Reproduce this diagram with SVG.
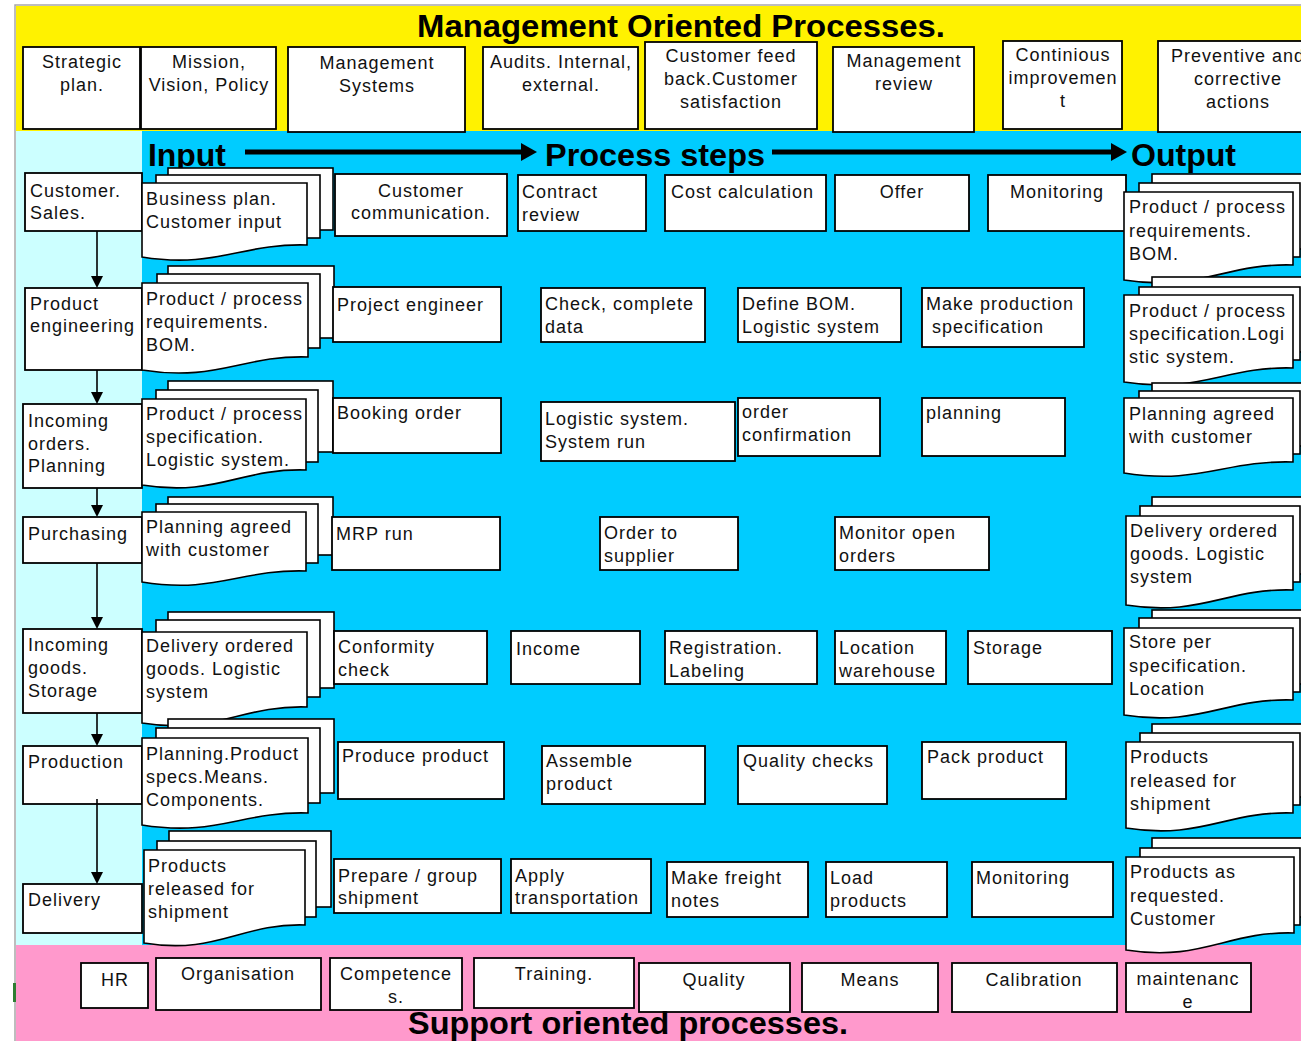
<svg xmlns="http://www.w3.org/2000/svg" width="1301" height="1041" viewBox="0 0 1301 1041">
<style>
.t{font-family:"Liberation Sans",Arial,sans-serif;font-size:18px;letter-spacing:1px;fill:#111}
.c{text-anchor:middle}
.h{font-family:"Liberation Sans",Arial,sans-serif;font-weight:bold;font-size:32px;fill:#000}
.b{fill:#fff;stroke:#000;stroke-width:1.8}
.d{fill:#fff;stroke:#000;stroke-width:1.6}
.cn{stroke:#000;stroke-width:1.6;fill:none}
</style>
<defs>
<marker id="ah" markerWidth="10" markerHeight="12" refX="5" refY="12" orient="auto-start-reverse" markerUnits="userSpaceOnUse" viewBox="0 0 10 12">
</marker>
</defs>
<!-- backgrounds -->
<rect x="0" y="0" width="1301" height="1041" fill="#fff"/>
<rect x="16" y="6" width="1285" height="125" fill="#FFF200"/>
<rect x="16" y="131" width="126" height="814" fill="#CCFFFF"/>
<rect x="142" y="131" width="1159" height="814" fill="#00CCFF"/>
<rect x="16" y="945" width="1285" height="96" fill="#FF99CC"/>
<path d="M15,1041 V5 H1301" fill="none" stroke="#a8a8a8" stroke-width="1.5"/>
<rect x="13" y="983" width="3" height="19" fill="#2e7d32"/>

<!-- management band -->
<text class="h" x="417" y="37" textLength="528" lengthAdjust="spacingAndGlyphs">Management Oriented Processes.</text>
<g id="m-strategic"><rect class="b" x="23" y="47" width="117" height="82"/><text class="t c" x="82" y="68">Strategic<tspan x="82" dy="23">plan.</tspan></text></g>
<g id="m-mission"><rect class="b" x="141" y="47" width="135" height="82"/><text class="t c" x="209" y="68">Mission,<tspan x="209" dy="23">Vision, Policy</tspan></text></g>
<g id="m-mgmtsys"><rect class="b" x="288" y="47" width="177" height="85"/><text class="t c" x="377" y="69">Management<tspan x="377" dy="23">Systems</tspan></text></g>
<g id="m-audits"><rect class="b" x="483" y="47" width="155" height="82"/><text class="t c" x="561" y="68">Audits. Internal,<tspan x="561" dy="23">external.</tspan></text></g>
<g id="m-feedback"><rect class="b" x="645" y="42" width="172" height="87"/><text class="t c" x="731" y="62">Customer feed<tspan x="731" dy="23">back.Customer</tspan><tspan x="731" dy="23">satisfaction</tspan></text></g>
<g id="m-review"><rect class="b" x="833" y="47" width="141" height="85"/><text class="t c" x="904" y="67">Management<tspan x="904" dy="23">review</tspan></text></g>
<g id="m-improve"><rect class="b" x="1003" y="41" width="119" height="88"/><text class="t c" x="1063" y="61">Continious<tspan x="1063" dy="23">improvemen</tspan><tspan x="1063" dy="23">t</tspan></text></g>
<g id="m-preventive"><rect class="b" x="1158" y="41" width="160" height="91"/><text class="t c" x="1238" y="62">Preventive and<tspan x="1238" dy="23">corrective</tspan><tspan x="1238" dy="23">actions</tspan></text></g>

<!-- header -->
<text class="h" x="148" y="166" textLength="78" lengthAdjust="spacingAndGlyphs">Input</text>
<text class="h" x="545" y="166" textLength="220" lengthAdjust="spacingAndGlyphs">Process steps</text>
<text class="h" x="1131" y="166" textLength="105" lengthAdjust="spacingAndGlyphs">Output</text>
<g id="header-arrows">
<line x1="245" y1="152" x2="524" y2="152" stroke="#000" stroke-width="5"/>
<polygon points="537,152 521,143 521,161" fill="#000"/>
<line x1="772" y1="152" x2="1114" y2="152" stroke="#000" stroke-width="5"/>
<polygon points="1127,152 1111,143 1111,161" fill="#000"/>
</g>

<!-- left column -->
<g id="l-sales"><rect class="b" x="25" y="173" width="117" height="58"/><text class="t" x="30" y="197">Customer.<tspan x="30" dy="22">Sales.</tspan></text></g>
<g id="l-eng"><rect class="b" x="25" y="288" width="117" height="82"/><text class="t" x="30" y="310">Product<tspan x="30" dy="22">engineering</tspan></text></g>
<g id="l-orders"><rect class="b" x="23" y="404" width="119" height="84"/><text class="t" x="28" y="427">Incoming<tspan x="28" dy="22.5">orders.</tspan><tspan x="28" dy="22.5">Planning</tspan></text></g>
<g id="l-purch"><rect class="b" x="23" y="517" width="119" height="46"/><text class="t" x="28" y="540">Purchasing</text></g>
<g id="l-goods"><rect class="b" x="23" y="629" width="119" height="84"/><text class="t" x="28" y="651">Incoming<tspan x="28" dy="23">goods.</tspan><tspan x="28" dy="23">Storage</tspan></text></g>
<g id="l-prod"><rect class="b" x="23" y="746" width="119" height="58"/><text class="t" x="28" y="768">Production</text></g>
<g id="l-deliv"><rect class="b" x="23" y="884" width="119" height="49"/><text class="t" x="28" y="906">Delivery</text></g>

<!-- connectors -->
<g id="connectors">
<line class="cn" x1="97" y1="231" x2="97" y2="277"/><polygon points="97,288 91,276 103,276"/>
<line class="cn" x1="97" y1="370" x2="97" y2="393"/><polygon points="97,404 91,392 103,392"/>
<line class="cn" x1="97" y1="488" x2="97" y2="506"/><polygon points="97,517 91,505 103,505"/>
<line class="cn" x1="97" y1="563" x2="97" y2="618"/><polygon points="97,629 91,617 103,617"/>
<line class="cn" x1="97" y1="713" x2="97" y2="735"/><polygon points="97,746 91,734 103,734"/>
<line class="cn" x1="97" y1="799" x2="97" y2="873"/><polygon points="97,884 91,872 103,872"/>
</g>

<!-- input documents -->
<g id="in-business">
<rect class="d" x="168" y="168" width="165" height="62"/><rect class="d" x="156" y="175" width="164" height="63"/>
<path class="d" d="M142,183 H307 V245 C241,243 216,269 142,257 Z"/>
<text class="t" x="146" y="205">Business plan.<tspan x="146" dy="23">Customer input</tspan></text></g>
<g id="in-req">
<rect class="d" x="168" y="266" width="166" height="72"/><rect class="d" x="157" y="274" width="163" height="74"/>
<path class="d" d="M142,283 H308 V357 C242,355 217,382 142,370 Z"/>
<text class="t" x="146" y="305">Product / process<tspan x="146" dy="23">requirements.</tspan><tspan x="146" dy="23">BOM.</tspan></text></g>
<g id="in-spec">
<rect class="d" x="168" y="381" width="165" height="71"/><rect class="d" x="156" y="390" width="162" height="72"/>
<path class="d" d="M142,399 H306 V470 C240,468 216,497 142,485 Z"/>
<text class="t" x="146" y="420">Product / process<tspan x="146" dy="23">specification.</tspan><tspan x="146" dy="23">Logistic system.</tspan></text></g>
<g id="in-plan">
<rect class="d" x="168" y="497" width="165" height="58"/><rect class="d" x="156" y="504" width="162" height="59"/>
<path class="d" d="M142,512 H306 V571 C240,569 216,594 142,582 Z"/>
<text class="t" x="146" y="533">Planning agreed<tspan x="146" dy="23">with customer</tspan></text></g>
<g id="in-deliv">
<rect class="d" x="168" y="612" width="166" height="76"/><rect class="d" x="156" y="620" width="164" height="77"/>
<path class="d" d="M142,632 H307 V707 C241,705 216,735 142,723 Z"/>
<text class="t" x="146" y="652">Delivery ordered<tspan x="146" dy="23">goods. Logistic</tspan><tspan x="146" dy="23">system</tspan></text></g>
<g id="in-prodplan">
<rect class="d" x="168" y="719" width="166" height="74"/><rect class="d" x="156" y="728" width="164" height="75"/>
<path class="d" d="M142,738 H308 V813 C242,811 217,837 142,825 Z"/>
<text class="t" x="146" y="760">Planning.Product<tspan x="146" dy="23">specs.Means.</tspan><tspan x="146" dy="23">Components.</tspan></text></g>
<g id="in-released">
<rect class="d" x="169" y="831" width="162" height="76"/><rect class="d" x="157" y="841" width="159" height="76"/>
<path class="d" d="M144,850 H305 V925 C241,923 216,955 144,943 Z"/>
<text class="t" x="148" y="872">Products<tspan x="148" dy="23">released for</tspan><tspan x="148" dy="23">shipment</tspan></text></g>

<!-- process steps row 1 -->
<g id="p-comm"><rect class="b" x="335" y="174" width="172" height="62"/><text class="t c" x="421" y="197">Customer<tspan x="421" dy="22">communication.</tspan></text></g>
<g id="p-contract"><rect class="b" x="518" y="175" width="128" height="56"/><text class="t" x="522" y="198">Contract<tspan x="522" dy="23">review</tspan></text></g>
<g id="p-cost"><rect class="b" x="665" y="175" width="161" height="56"/><text class="t" x="671" y="198">Cost calculation</text></g>
<g id="p-offer"><rect class="b" x="835" y="175" width="134" height="56"/><text class="t c" x="902" y="198">Offer</text></g>
<g id="p-monitor1"><rect class="b" x="988" y="175" width="138" height="56"/><text class="t c" x="1057" y="198">Monitoring</text></g>
<!-- row 2 -->
<g id="p-projeng"><rect class="b" x="333" y="287" width="168" height="55"/><text class="t" x="337" y="311">Project engineer</text></g>
<g id="p-check"><rect class="b" x="541" y="288" width="164" height="54"/><text class="t" x="545" y="310">Check, complete<tspan x="545" dy="23">data</tspan></text></g>
<g id="p-bom"><rect class="b" x="738" y="288" width="163" height="54"/><text class="t" x="742" y="310">Define BOM.<tspan x="742" dy="23">Logistic system</tspan></text></g>
<g id="p-makespec"><rect class="b" x="922" y="288" width="162" height="59"/><text class="t" x="926" y="310">Make production<tspan x="926" dy="23"> specification</tspan></text></g>
<!-- row 3 -->
<g id="p-booking"><rect class="b" x="333" y="398" width="168" height="55"/><text class="t" x="337" y="419">Booking order</text></g>
<g id="p-sysrun"><rect class="b" x="541" y="402" width="194" height="59"/><text class="t" x="545" y="425">Logistic system.<tspan x="545" dy="23">System run</tspan></text></g>
<g id="p-confirm"><rect class="b" x="738" y="398" width="142" height="58"/><text class="t" x="742" y="418">order<tspan x="742" dy="23">confirmation</tspan></text></g>
<g id="p-planning"><rect class="b" x="922" y="398" width="143" height="58"/><text class="t" x="926" y="419">planning</text></g>
<!-- row 4 -->
<g id="p-mrp"><rect class="b" x="332" y="517" width="168" height="53"/><text class="t" x="336" y="540">MRP run</text></g>
<g id="p-order"><rect class="b" x="600" y="517" width="138" height="53"/><text class="t" x="604" y="539">Order to<tspan x="604" dy="23">supplier</tspan></text></g>
<g id="p-monopen"><rect class="b" x="835" y="517" width="154" height="53"/><text class="t" x="839" y="539">Monitor open<tspan x="839" dy="23">orders</tspan></text></g>
<!-- row 5 -->
<g id="p-conform"><rect class="b" x="334" y="631" width="153" height="53"/><text class="t" x="338" y="653">Conformity<tspan x="338" dy="23">check</tspan></text></g>
<g id="p-income"><rect class="b" x="511" y="631" width="129" height="53"/><text class="t" x="516" y="655">Income</text></g>
<g id="p-regist"><rect class="b" x="665" y="631" width="152" height="53"/><text class="t" x="669" y="654">Registration.<tspan x="669" dy="23">Labeling</tspan></text></g>
<g id="p-location"><rect class="b" x="835" y="631" width="111" height="53"/><text class="t" x="839" y="654">Location<tspan x="839" dy="23">warehouse</tspan></text></g>
<g id="p-storage"><rect class="b" x="968" y="631" width="144" height="53"/><text class="t" x="973" y="654">Storage</text></g>
<!-- row 6 -->
<g id="p-produce"><rect class="b" x="338" y="742" width="166" height="57"/><text class="t" x="342" y="762">Produce product</text></g>
<g id="p-assemble"><rect class="b" x="542" y="746" width="163" height="58"/><text class="t" x="546" y="767">Assemble<tspan x="546" dy="23">product</tspan></text></g>
<g id="p-quality"><rect class="b" x="738" y="746" width="149" height="58"/><text class="t" x="743" y="767">Quality checks</text></g>
<g id="p-pack"><rect class="b" x="922" y="742" width="144" height="57"/><text class="t" x="927" y="763">Pack product</text></g>
<!-- row 7 -->
<g id="p-prepare"><rect class="b" x="334" y="859" width="167" height="54"/><text class="t" x="338" y="882">Prepare / group<tspan x="338" dy="22">shipment</tspan></text></g>
<g id="p-apply"><rect class="b" x="511" y="859" width="140" height="54"/><text class="t" x="515" y="882">Apply<tspan x="515" dy="22">transportation</tspan></text></g>
<g id="p-freight"><rect class="b" x="667" y="862" width="141" height="55"/><text class="t" x="671" y="884">Make freight<tspan x="671" dy="23">notes</tspan></text></g>
<g id="p-load"><rect class="b" x="826" y="862" width="121" height="55"/><text class="t" x="830" y="884">Load<tspan x="830" dy="23">products</tspan></text></g>
<g id="p-monitor2"><rect class="b" x="972" y="862" width="141" height="55"/><text class="t" x="976" y="884">Monitoring</text></g>

<!-- output documents -->
<g id="out-req">
<rect class="d" x="1152" y="174" width="161" height="75"/><rect class="d" x="1139" y="183" width="161" height="74"/>
<path class="d" d="M1124,192 H1293 V265 C1225,263 1200,292 1124,280 Z"/>
<text class="t" x="1129" y="213">Product / process<tspan x="1129" dy="23.5">requirements.</tspan><tspan x="1129" dy="23.5">BOM.</tspan></text></g>
<g id="out-spec">
<rect class="d" x="1152" y="277" width="161" height="75"/><rect class="d" x="1139" y="287" width="161" height="73"/>
<path class="d" d="M1124,295 H1293 V368 C1225,366 1200,394 1124,382 Z"/>
<text class="t" x="1129" y="317">Product / process<tspan x="1129" dy="23">specification.Logi</tspan><tspan x="1129" dy="23">stic system.</tspan></text></g>
<g id="out-plan">
<rect class="d" x="1152" y="383" width="161" height="63"/><rect class="d" x="1139" y="391" width="161" height="63"/>
<path class="d" d="M1124,398 H1293 V462 C1225,460 1200,485 1124,473 Z"/>
<text class="t" x="1129" y="420">Planning agreed<tspan x="1129" dy="23">with customer</tspan></text></g>
<g id="out-deliv">
<rect class="d" x="1152" y="497" width="161" height="77"/><rect class="d" x="1140" y="506" width="160" height="76"/>
<path class="d" d="M1126,516 H1293 V590 C1226,588 1201,617 1126,605 Z"/>
<text class="t" x="1130" y="537">Delivery ordered<tspan x="1130" dy="23">goods. Logistic</tspan><tspan x="1130" dy="23">system</tspan></text></g>
<g id="out-store">
<rect class="d" x="1152" y="610" width="161" height="74"/><rect class="d" x="1139" y="618" width="161" height="74"/>
<path class="d" d="M1124,628 H1293 V700 C1225,698 1200,727 1124,715 Z"/>
<text class="t" x="1129" y="648">Store per<tspan x="1129" dy="23.5">specification.</tspan><tspan x="1129" dy="23.5">Location</tspan></text></g>
<g id="out-released">
<rect class="d" x="1152" y="724" width="161" height="73"/><rect class="d" x="1140" y="733" width="160" height="72"/>
<path class="d" d="M1126,742 H1293 V813 C1226,811 1201,840 1126,828 Z"/>
<text class="t" x="1130" y="763">Products<tspan x="1130" dy="23.5">released for</tspan><tspan x="1130" dy="23.5">shipment</tspan></text></g>
<g id="out-customer">
<rect class="d" x="1152" y="838" width="161" height="79"/><rect class="d" x="1140" y="848" width="160" height="77"/>
<path class="d" d="M1126,857 H1294 V933 C1227,931 1202,962 1126,950 Z"/>
<text class="t" x="1130" y="878">Products as<tspan x="1130" dy="23.5">requested.</tspan><tspan x="1130" dy="23.5">Customer</tspan></text></g>

<!-- support band -->
<g id="s-hr"><rect class="b" x="81" y="963" width="67" height="45"/><text class="t c" x="115" y="986">HR</text></g>
<g id="s-org"><rect class="b" x="156" y="958" width="165" height="52"/><text class="t c" x="238" y="980">Organisation</text></g>
<g id="s-comp"><rect class="b" x="330" y="958" width="132" height="52"/><text class="t c" x="396" y="980">Competence<tspan x="396" dy="23">s.</tspan></text></g>
<g id="s-train"><rect class="b" x="474" y="958" width="160" height="50"/><text class="t c" x="554" y="980">Training.</text></g>
<g id="s-quality"><rect class="b" x="639" y="963" width="151" height="49"/><text class="t c" x="714" y="986">Quality</text></g>
<g id="s-means"><rect class="b" x="802" y="963" width="136" height="49"/><text class="t c" x="870" y="986">Means</text></g>
<g id="s-calib"><rect class="b" x="952" y="963" width="165" height="49"/><text class="t c" x="1034" y="986">Calibration</text></g>
<g id="s-maint"><rect class="b" x="1126" y="963" width="125" height="49"/><text class="t c" x="1188" y="985">maintenanc<tspan x="1188" dy="23">e</tspan></text></g>
<text class="h" x="408" y="1034" textLength="440" lengthAdjust="spacingAndGlyphs">Support oriented processes.</text>
</svg>
